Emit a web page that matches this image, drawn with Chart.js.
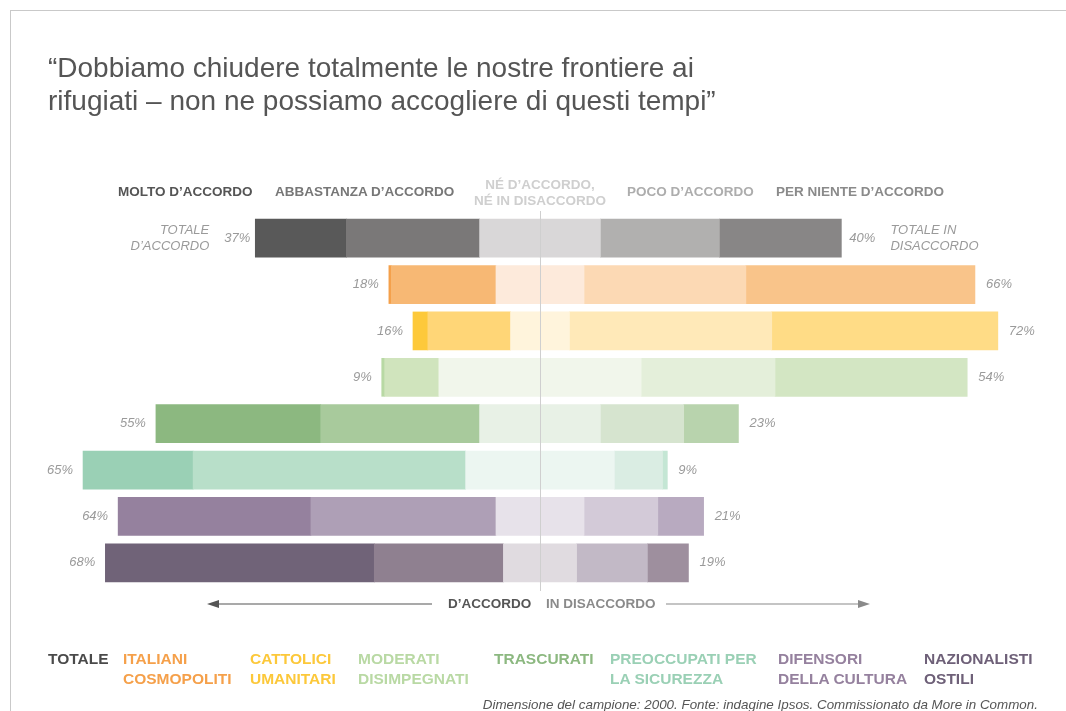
<!DOCTYPE html>
<html>
<head>
<meta charset="utf-8">
<script src="https://cdn.jsdelivr.net/npm/chart.js@4/dist/chart.umd.min.js"></script>
<style>
  html, body { margin: 0; padding: 0; background: #fff; }
  #wrap { position: relative; width: 1066px; height: 711px; overflow: hidden; font-family: "Liberation Sans", Arial, sans-serif; }
  #frame { position: absolute; left: 10px; top: 10px; width: 1100px; height: 800px; border-left: 1px solid #c9c9c9; border-top: 1px solid #c9c9c9; }
  canvas { position: absolute; left: 0; top: 0; }
  .t { position: absolute; white-space: nowrap; }
  #title { left: 48px; top: 51px; font-size: 28px; line-height: 33px; color: #555; }
  .hd { font-size: 13.5px; font-weight: bold; line-height: 16px; top: 184px; }
  .lg { top: 649px; font-size: 15.5px; font-weight: bold; line-height: 20px; }
  #foot { right: 28px; top: 697px; font-size: 13.4px; font-style: italic; color: #555; }
</style>
</head>
<body>
<div id="wrap">
  <div id="frame"></div>
  <canvas id="chart" width="1066" height="711"></canvas>

  <div id="title" class="t">“Dobbiamo chiudere totalmente le nostre frontiere ai<br>rifugiati – non ne possiamo accogliere di questi tempi”</div>

  <div class="t hd" style="left:118px; color:#555;">MOLTO D’ACCORDO</div>
  <div class="t hd" style="left:275px; color:#777;">ABBASTANZA D’ACCORDO</div>
  <div class="t hd" style="left:440px; width:200px; text-align:center; top:177px; color:#cfcfcf;">NÉ D’ACCORDO,<br>NÉ IN DISACCORDO</div>
  <div class="t hd" style="left:627px; color:#adadad;">POCO D’ACCORDO</div>
  <div class="t hd" style="left:776px; color:#8a8a8a;">PER NIENTE D’ACCORDO</div>

  <svg class="t" style="left:0; top:594px;" width="1066" height="20">
    <line x1="214" y1="10" x2="432" y2="10" stroke="#555" stroke-width="1.2"/>
    <polygon points="207,10 219,6 219,14" fill="#555"/>
    <line x1="666" y1="10" x2="862" y2="10" stroke="#8a8a8a" stroke-width="1.2"/>
    <polygon points="870,10 858,6 858,14" fill="#8a8a8a"/>
  </svg>
  <div class="t hd" style="left:448px; top:596px; color:#555;">D’ACCORDO</div>
  <div class="t hd" style="left:546px; top:596px; color:#8a8a8a;">IN DISACCORDO</div>

  <div class="t lg" style="left:48px; color:#4a4a4a;">TOTALE</div>
  <div class="t lg" style="left:123px; color:#f5a04a;">ITALIANI<br>COSMOPOLITI</div>
  <div class="t lg" style="left:250px; color:#fcc83a;">CATTOLICI<br>UMANITARI</div>
  <div class="t lg" style="left:358px; color:#b9d9a4;">MODERATI<br>DISIMPEGNATI</div>
  <div class="t lg" style="left:494px; color:#8cb880;">TRASCURATI</div>
  <div class="t lg" style="left:610px; color:#9ad0b5;">PREOCCUPATI PER<br>LA SICUREZZA</div>
  <div class="t lg" style="left:778px; color:#95819e;">DIFENSORI<br>DELLA CULTURA</div>
  <div class="t lg" style="left:924px; color:#6e6078;">NAZIONALISTI<br>OSTILI</div>

  <div id="foot" class="t">Dimensione del campione: 2000. Fonte: indagine Ipsos. Commissionato da More in Common.</div>
</div>

<script>
// segmenti: totale, cosmopoliti, cattolici, moderati, trascurati, preoccupati, difensori, nazionalisti
const groups = ["Totale", "Italiani cosmopoliti", "Cattolici umanitari", "Moderati disimpegnati",
  "Trascurati", "Preoccupati per la sicurezza", "Difensori della cultura", "Nazionalisti ostili"];

const molto = [15.3, 0.4, 2.5, 0.5, 27.7, 18.5, 32.4, 45.2];
const abbastanza = [22.4, 17.6, 13.9, 9.1, 26.7, 45.8, 31.1, 21.7];
const neutrale = [20.3, 14.8, 9.9, 34, 20.3, 25, 14.8, 12.3];
const poco = [20, 27.2, 34, 22.5, 14, 8.1, 12.4, 11.9];
const perNiente = [20.5, 38.5, 38, 32.3, 9.2, 0.8, 7.7, 6.9];

const totAccordo = [37, 18, 16, 9, 55, 65, 64, 68];
const totDisaccordo = [40, 66, 72, 54, 23, 9, 21, 19];

const colMolto = ["#595959", "#f4a04a", "#fdc93a", "#b8d9a4", "#8cb880", "#9ad0b5", "#95819e", "#706378"];
const colAbb = ["#7a7878", "#f7b874", "#ffd677", "#d0e4bd", "#a8ca9c", "#b8dfc9", "#ae9fb6", "#8f8090"];
const colNeu = ["#d9d7d8", "#fdeadb", "#fff4dc", "#f1f6eb", "#e8f1e6", "#ecf6f1", "#e7e2ea", "#e0dbe0"];
const colPoco = ["#b1b0af", "#fcd9b4", "#ffe9b8", "#e4efda", "#d6e4cf", "#daede3", "#d3cad8", "#c2b9c6"];
const colPN = ["#888686", "#f9c48a", "#ffdc86", "#d3e6c3", "#b8d3ad", "#c4e6d4", "#b8aac0", "#9e8f9e"];

const neg = (arr) => arr.map((v) => -v);
const half = (arr) => arr.map((v) => v / 2);

const labelFont = "italic 13px 'Liberation Sans', Arial, sans-serif";

const sideLabels = {
  id: "sideLabels",
  afterDatasetsDraw(chart) {
    const ctx = chart.ctx;
    const x = chart.scales.x;
    const y = chart.scales.y;
    const area = chart.chartArea;
    const x0 = Math.round(x.getPixelForValue(0)) + 0.5;

    ctx.save();
    ctx.strokeStyle = "#cfcfcf";
    ctx.lineWidth = 1;
    ctx.beginPath();
    ctx.moveTo(x0, area.top - 4);
    ctx.lineTo(x0, area.bottom + 5);
    ctx.stroke();

    ctx.font = labelFont;
    ctx.fillStyle = "#9a9a9a";
    ctx.textBaseline = "middle";
    groups.forEach((g, i) => {
      const yc = y.getPixelForValue(i);
      const left = x.getPixelForValue(-(neutrale[i] / 2 + abbastanza[i] + molto[i]));
      const right = x.getPixelForValue(neutrale[i] / 2 + poco[i] + perNiente[i]);
      const gapL = i === 0 ? 5 : 10;
      const gapR = i === 0 ? 8 : 11;
      ctx.textAlign = "right";
      ctx.fillText(totAccordo[i] + "%", left - gapL, yc);
      ctx.textAlign = "left";
      ctx.fillText(totDisaccordo[i] + "%", right + gapR, yc);
      if (i === 0) {
        const wl = ctx.measureText(totAccordo[i] + "%").width;
        const wr = ctx.measureText(totDisaccordo[i] + "%").width;
        ctx.textAlign = "right";
        ctx.fillText("TOTALE", left - gapL - wl - 15, yc - 8);
        ctx.fillText("D’ACCORDO", left - gapL - wl - 15, yc + 8);
        ctx.textAlign = "left";
        ctx.fillText("TOTALE IN", right + gapR + wr + 15, yc - 8);
        ctx.fillText("DISACCORDO", right + gapR + wr + 15, yc + 8);
      }
    });
    ctx.restore();
  },
};

function ds(label, data, colors) {
  return { label, data, backgroundColor: colors, borderWidth: 0, barThickness: 38, borderSkipped: false };
}

new Chart(document.getElementById("chart"), {
  type: "bar",
  data: {
    labels: groups,
    datasets: [
      ds("Né d'accordo né in disaccordo", neg(half(neutrale)), colNeu),
      ds("Abbastanza d'accordo", neg(abbastanza), colAbb),
      ds("Molto d'accordo", neg(molto), colMolto),
      ds("Né d'accordo né in disaccordo ", half(neutrale), colNeu),
      ds("Poco d'accordo", poco, colPoco),
      ds("Per niente d'accordo", perNiente, colPN),
    ],
  },
  options: {
    indexAxis: "y",
    responsive: false,
    animation: false,
    layout: { padding: { left: 64, right: 50, top: 215, bottom: 125 } },
    plugins: { legend: { display: false }, tooltip: { enabled: false } },
    scales: {
      x: { stacked: true, min: -80, max: 80, display: false },
      y: { stacked: true, display: false },
    },
  },
  plugins: [sideLabels],
});
</script>
</body>
</html>
